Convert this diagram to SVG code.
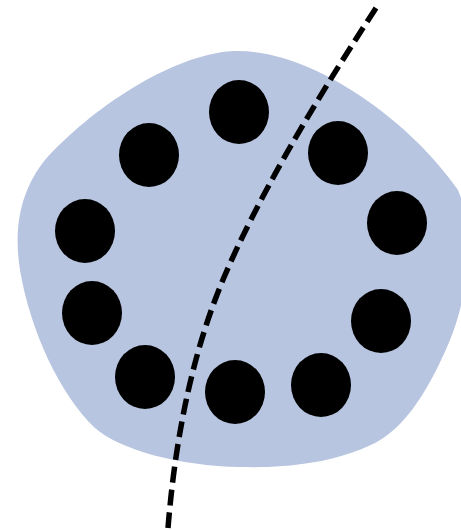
<svg xmlns="http://www.w3.org/2000/svg" width="461" height="530" viewBox="0 0 461 530">
<style>
.blob{fill:#b8c5e0;stroke:none}
.dot{fill:#000}
.cut{fill:none;stroke:#000;stroke-width:5.5;stroke-dasharray:16 7}
</style>
<rect width="461" height="530" fill="#fff"/>
<path class="blob" d="M 233 51 C 310 48, 410 120, 458 190 C 475 230, 470 290, 450 340 C 425 400, 400 430, 375 443 C 330 465, 280 468, 240 467 C 180 466, 120 450, 95 428 C 60 395, 30 330, 20 270 C 12 220, 25 185, 45 160 C 90 110, 170 55, 233 51 Z"/>
<g id="dots">
<ellipse class="dot" cx="239" cy="112" rx="30" ry="32"/>
<ellipse class="dot" cx="149" cy="155" rx="30" ry="32"/>
<ellipse class="dot" cx="338" cy="153" rx="30" ry="32"/>
<ellipse class="dot" cx="85" cy="231" rx="30" ry="32"/>
<ellipse class="dot" cx="397" cy="223" rx="30" ry="32"/>
<ellipse class="dot" cx="92" cy="313" rx="30" ry="32"/>
<ellipse class="dot" cx="145" cy="377" rx="30" ry="32"/>
<ellipse class="dot" cx="235" cy="392" rx="30" ry="32"/>
<ellipse class="dot" cx="321" cy="385" rx="30" ry="32"/>
<ellipse class="dot" cx="381" cy="321" rx="30" ry="32"/>
</g>
<g id="connectors">
<path class="cut" d="M 376 8 Q 270 170 225 275 Q 180 380 168 528"/>
</g>
</svg>
